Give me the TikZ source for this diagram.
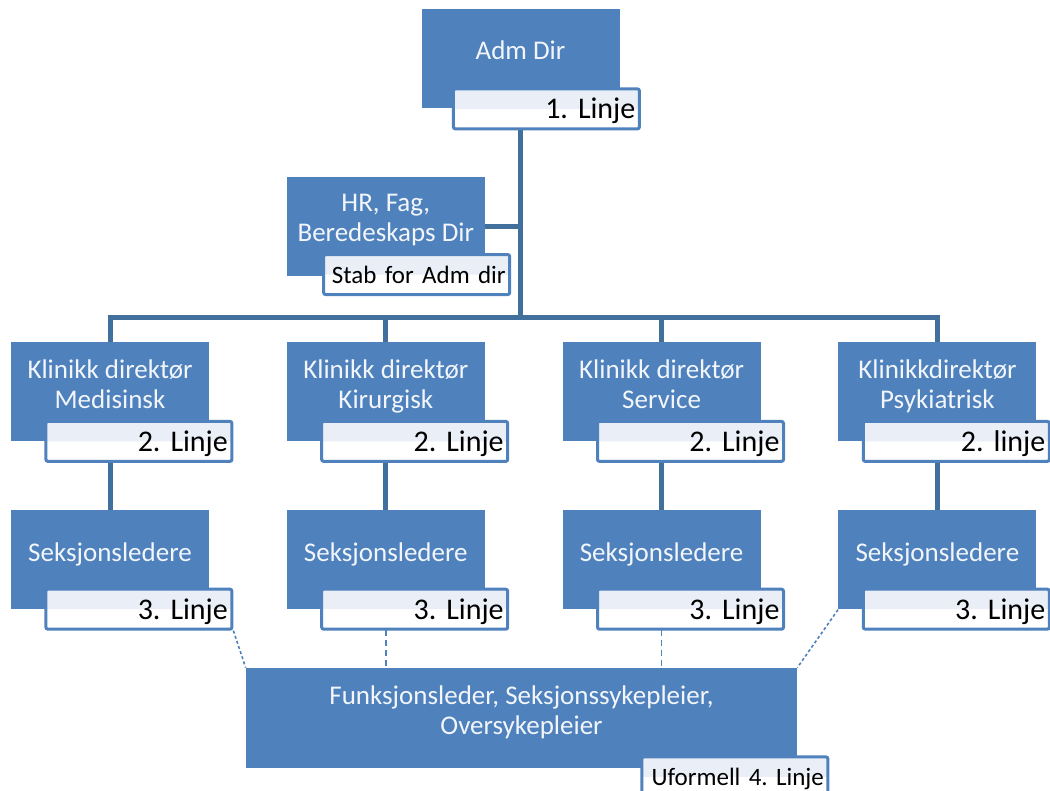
\documentclass[tikz,border=0pt]{standalone}
\usepackage{fontspec}
\setmainfont{Carlito}
\frenchspacing
\usetikzlibrary{positioning,calc}
\definecolor{orgBlue}{HTML}{4F81BD}
\definecolor{orgLineBlue}{HTML}{41709C}
\definecolor{orgLblTop}{HTML}{E9EEF7}
\definecolor{orgText}{HTML}{F2F6FB}
\tikzset{
    orgBox/.style={
        rectangle,
        fill=orgBlue,
        minimum width=99pt,
        minimum height=49.5pt,
        inner sep=2pt,
        text=orgText,
        font=\fontsize{13.5}{15}\selectfont,
        align=center,
        text depth=8pt
    },
    % label boxes sitting on the lower right corner
    orgLabel/.style={
        rectangle,
        draw=orgBlue,
        line width=1.5pt,
        rounded corners=1pt,
        fill=white,
        path picture={\fill[orgLblTop] (path picture bounding box.north west) rectangle (path picture bounding box.east);},
        minimum width=93pt,
        minimum height=20pt,
        inner xsep=2pt,
        inner ysep=0pt,
        text width=89pt,
        align=right,
        text height=10pt,
        text depth=0pt,
        font=\fontsize{15}{17}\selectfont
    },
    orgSmall/.style={font=\fontsize{12.5}{14}\selectfont, text height=8.5pt},
    % connectors
    orgLine/.style={draw=orgLineBlue, line width=2.5pt},
    orgDash/.style={draw=orgBlue, line width=0.7pt, dash pattern=on 3pt off 2pt},
    orgDot/.style={draw=orgBlue, line width=0.8pt, dash pattern=on 1.5pt off 1.2pt}
}
\begin{document}
\begin{tikzpicture}[x=0.5pt, y=0.5pt]
\useasboundingbox (0,0) rectangle (1050,791);

% boxes
\node[orgBox] (adm) at (520.5,732.5) {Adm Dir};
\node[orgBox] (med) at (110,399) {Klinikk direktør\\Medisinsk};
\node[orgBox, right=38.5pt of med] (kir) {Klinikk direktør\\Kirurgisk};
\node[orgBox, right=38.5pt of kir] (ser) {Klinikk direktør\\Service};
\node[orgBox, right=38.5pt of ser] (psy) {Klinikkdirektør\\Psykiatrisk};
\node[orgBox, above=33pt of kir] (hr) {HR, Fag,\\Beredeskaps Dir};
\foreach \a/\b in {med/s1,kir/s2,ser/s3,psy/s4}
    \node[orgBox, below=34pt of \a] (\b) {Seksjonsledere};
\node[orgBox, minimum width=275.5pt, minimum height=50pt] (fun) at (521.5,73)
    {Funksjonsleder, Seksjonssykepleier,\\Oversykepleier};

% lines
\coordinate (bus) at (520.5,473);
\draw[orgLine] (adm.south) -- (adm.south |- bus);
\draw[orgLine] (hr.east) -- (hr.east -| adm.south);
\draw[orgLine] (med.north) -- (med.north |- bus) -- (psy.north |- bus) -- (psy.north);
\foreach \n in {kir,ser}
    \draw[orgLine] (\n.north) -- (\n.north |- bus);
\foreach \a/\b in {med/s1,kir/s2,ser/s3,psy/s4}
    \draw[orgLine] (\a.south) -- (\b.north);
\draw[orgDash] (s2.south) -- (s2.south |- fun.north);
\draw[orgDash] (s3.south) -- (s3.south |- fun.north);

% labels
\node[orgLabel, anchor=north east] (admL) at ([shift={(21,21)}]adm.south east) {1. Linje};
\node[orgLabel, orgSmall, anchor=north east] (hrL) at ([shift={(26,23)}]hr.south east) {Stab for Adm dir};
\foreach \n/\t/\d in {med/2. Linje/24,kir/2. Linje/24,ser/2. Linje/24,psy/2. linje/14,s1/3. Linje/24,s2/3. Linje/24,s3/3. Linje/24,s4/3. Linje/14}
    \node[orgLabel, anchor=north east] (\n L) at ([shift={(\d,22)}]\n.south east) {\t};
\node[orgLabel, orgSmall, anchor=north east] (funL) at ([shift={(32,13)}]fun.south east) {Uformell 4. Linje};

\draw[orgDot] (s1L.south east) -- (fun.north west);
\draw[orgDot] (s4.south west) -- (fun.north east);
\end{tikzpicture}
\end{document}
